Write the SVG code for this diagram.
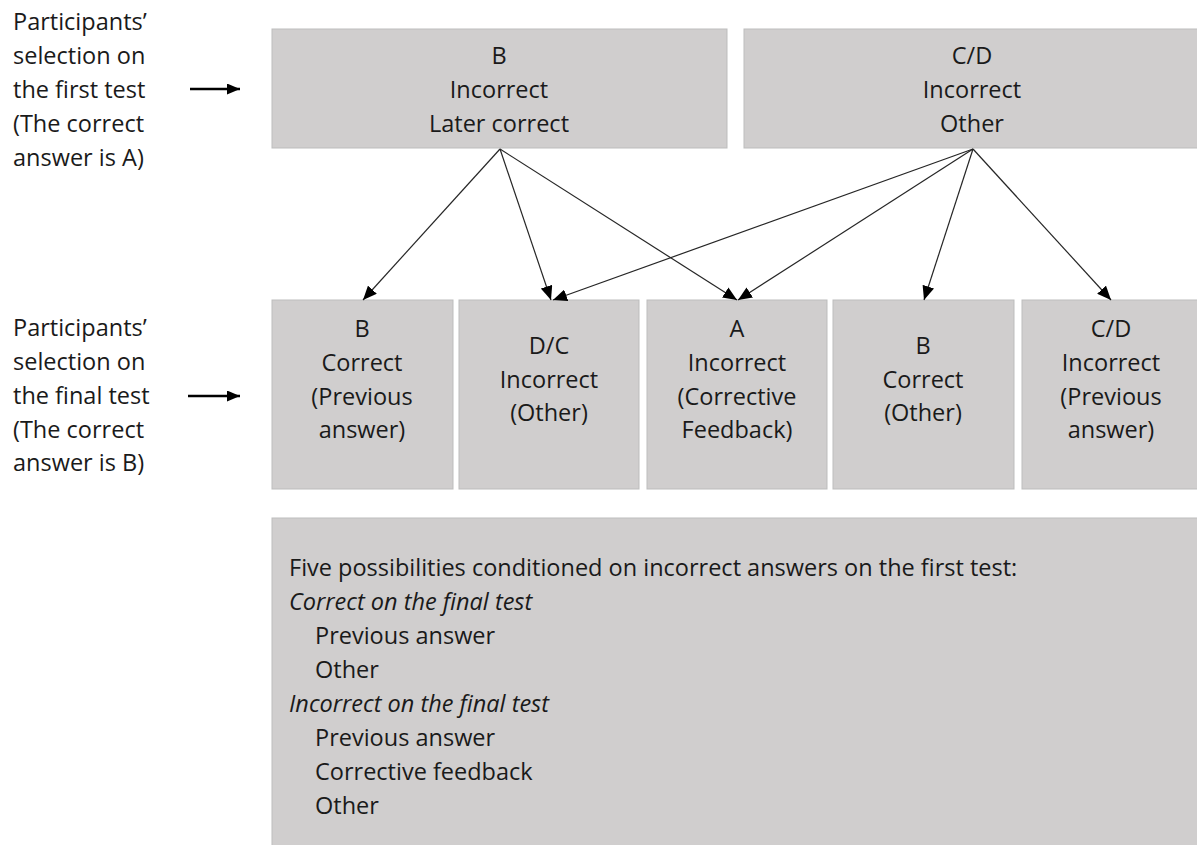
<svg xmlns="http://www.w3.org/2000/svg" width="1197" height="845" viewBox="0 0 1197 845">
<defs>
<style>
.box{fill:#d0cece;stroke:#bdbdbd;stroke-width:1}
text{font-family:"Open Sans","Noto Sans","Liberation Sans",sans-serif;font-size:23.5px;fill:#1a1a1a}
.c{text-anchor:middle}
.i{font-style:italic}
.con{stroke:#262626;stroke-width:1.2;fill:none;marker-end:url(#ah)}
.lab{stroke:#000;stroke-width:2.6;fill:none;marker-end:url(#ah2)}
</style>
<marker id="ah" markerUnits="userSpaceOnUse" markerWidth="14" markerHeight="12" refX="14" refY="6" orient="auto">
<path d="M0,0 L14,6 L0,12 Z" fill="#000"/>
</marker>
<marker id="ah2" markerUnits="userSpaceOnUse" markerWidth="13" markerHeight="11" refX="13" refY="5.5" orient="auto">
<path d="M0,0 L13,5.5 L0,11 Z" fill="#000"/>
</marker>
</defs>
<rect width="1197" height="845" fill="#fff"/>

<g id="label-first">
<text x="13" y="30">Participants’</text>
<text x="13" y="64">selection on</text>
<text x="13" y="98">the first test</text>
<text x="13" y="132">(The correct</text>
<text x="13" y="166">answer is A)</text>
<line class="lab" x1="190" y1="89" x2="240" y2="89"/>
</g>

<g id="label-final">
<text x="13" y="336">Participants’</text>
<text x="13" y="370">selection on</text>
<text x="13" y="404">the final test</text>
<text x="13" y="438">(The correct</text>
<text x="13" y="471">answer is B)</text>
<line class="lab" x1="188" y1="396" x2="240" y2="396"/>
</g>

<g id="top-B">
<rect class="box" x="272" y="29" width="455" height="119"/>
<text class="c" x="499" y="64">B</text>
<text class="c" x="499" y="98">Incorrect</text>
<text class="c" x="499" y="132">Later correct</text>
</g>

<g id="top-CD">
<rect class="box" x="744" y="29" width="457" height="119"/>
<text class="c" x="972" y="64">C/D</text>
<text class="c" x="972" y="98">Incorrect</text>
<text class="c" x="972" y="132">Other</text>
</g>

<g id="final-B-prev">
<rect class="box" x="272" y="300" width="181" height="189"/>
<text class="c" x="362" y="337">B</text>
<text class="c" x="362" y="371">Correct</text>
<text class="c" x="362" y="405">(Previous</text>
<text class="c" x="362" y="438">answer)</text>
</g>

<g id="final-DC">
<rect class="box" x="459" y="300" width="180" height="189"/>
<text class="c" x="549" y="354">D/C</text>
<text class="c" x="549" y="388">Incorrect</text>
<text class="c" x="549" y="421">(Other)</text>
</g>

<g id="final-A">
<rect class="box" x="647" y="300" width="180" height="189"/>
<text class="c" x="737" y="337">A</text>
<text class="c" x="737" y="371">Incorrect</text>
<text class="c" x="737" y="405">(Corrective</text>
<text class="c" x="737" y="438">Feedback)</text>
</g>

<g id="final-B-other">
<rect class="box" x="833" y="300" width="181" height="189"/>
<text class="c" x="923" y="354">B</text>
<text class="c" x="923" y="388">Correct</text>
<text class="c" x="923" y="421">(Other)</text>
</g>

<g id="final-CD">
<rect class="box" x="1022" y="300" width="179" height="189"/>
<text class="c" x="1111" y="337">C/D</text>
<text class="c" x="1111" y="371">Incorrect</text>
<text class="c" x="1111" y="405">(Previous</text>
<text class="c" x="1111" y="438">answer)</text>
</g>

<g id="summary">
<rect class="box" x="272" y="518" width="929" height="330"/>
<text x="289" y="576">Five possibilities conditioned on incorrect answers on the first test:</text>
<text class="i" x="289" y="610">Correct on the final test</text>
<text x="315" y="644">Previous answer</text>
<text x="315" y="678">Other</text>
<text class="i" x="289" y="712">Incorrect on the final test</text>
<text x="315" y="746">Previous answer</text>
<text x="315" y="780">Corrective feedback</text>
<text x="315" y="814">Other</text>
</g>

<g id="connectors">
<line class="con" x1="500" y1="149" x2="363" y2="300"/>
<line class="con" x1="500" y1="149" x2="551" y2="300"/>
<line class="con" x1="500" y1="149" x2="737" y2="300"/>
<line class="con" x1="973" y1="149" x2="553" y2="300"/>
<line class="con" x1="973" y1="149" x2="738" y2="300"/>
<line class="con" x1="973" y1="149" x2="924" y2="300"/>
<line class="con" x1="973" y1="149" x2="1111" y2="300"/>
</g>
</svg>
